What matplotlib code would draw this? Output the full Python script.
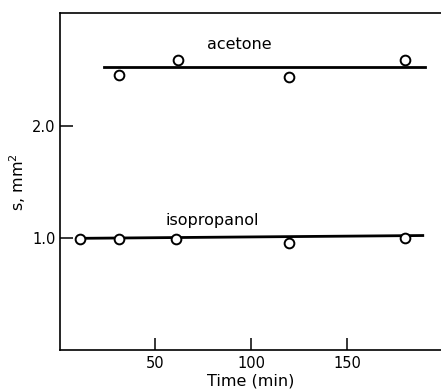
import matplotlib
matplotlib.use("Agg")
import matplotlib.pyplot as plt

# Data
iso_time = [11, 31, 61, 120, 180]
iso_s = [0.99, 0.99, 0.99, 0.955, 1.0]
iso_fit_time = [11, 189.5]
iso_fit_s = [0.995, 1.02]

ace_time = [31, 62, 120, 180.5]
ace_s = [2.45, 2.58, 2.43, 2.58]
ace_fit_time = [23.5, 190.5]
ace_fit_s = [2.52, 2.52]

x_ticks = [50, 100, 150]
x_ticklabels = ["50", "100", "150"]
y_ticks = [1.0, 2.0]
y_ticklabels = ["1.0", "2.0"]

fig = plt.figure(figsize=(4.41, 3.92), dpi=100)
ax = fig.add_axes([60 / 441, 1 - 350 / 392, 1 - 60 / 441, (350 - 13.3) / 392])

ax.plot(iso_fit_time, iso_fit_s, color="black", lw=2.0, zorder=2)
ax.plot(ace_fit_time, ace_fit_s, color="black", lw=2.0, zorder=2)
ax.plot(iso_time, iso_s, "o", mfc="white", mec="black", mew=1.4, ms=7, ls="none", zorder=3)
ax.plot(ace_time, ace_s, "o", mfc="white", mec="black", mew=1.4, ms=7, ls="none", zorder=3)

ax.text(94, 2.72, "acetone", ha="center", va="center", fontsize=11.5)
ax.text(80, 1.15, "isopropanol", ha="center", va="center", fontsize=11.5)

ax.set_xlim(0.5, 199)
ax.set_ylim(0, 3.0)
ax.set_xticks(x_ticks)
ax.set_xticklabels(x_ticklabels)
ax.set_yticks(y_ticks)
ax.set_yticklabels(y_ticklabels)
ax.tick_params(direction="in", length=9, width=1.1, labelsize=10.5)
ax.tick_params(axis="x", pad=4)
ax.tick_params(axis="y", pad=3)

for side in ["left", "top", "bottom"]:
    ax.spines[side].set_linewidth(1.2)
ax.spines["right"].set_visible(False)

ax.set_xlabel("Time (min)", fontsize=11.5, labelpad=2)
ax.set_ylabel("s, mm$^2$", fontsize=11.5, labelpad=3)

fig.savefig("out.png", dpi=100)
